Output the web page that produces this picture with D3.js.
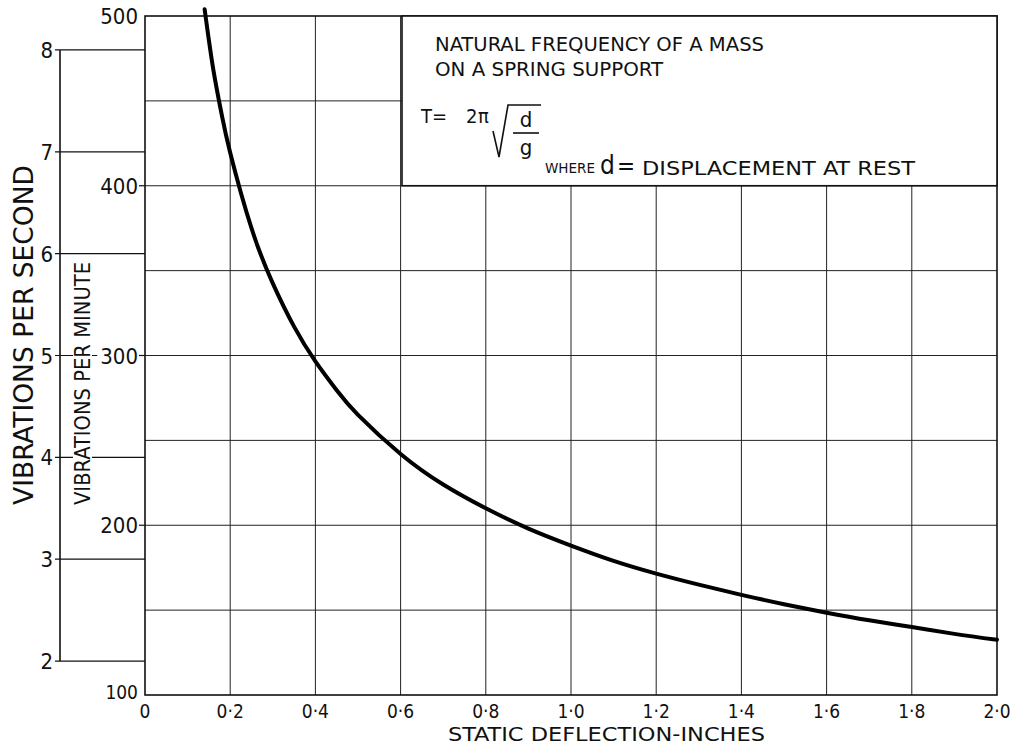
<!DOCTYPE html>
<html>
<head>
<meta charset="utf-8">
<script src="https://cdn.jsdelivr.net/npm/d3@7.9.0/dist/d3.min.js"></script>
<style>
  body { margin: 0; background: #fff; }
  text { font-family: "DejaVu Sans Condensed", "Liberation Sans Narrow", "Liberation Sans", sans-serif; fill: #111; }
</style>
</head>
<body>
<svg id="chart" width="1027" height="752"></svg>
<script>
// curve: static deflection (in) -> vibrations per minute
const deflection = [0.14, 0.16, 0.18, 0.2, 0.25, 0.3, 0.35, 0.4, 0.45, 0.5, 0.6, 0.7, 0.8, 0.9, 1.0, 1.1, 1.2, 1.3, 1.4, 1.5, 1.6, 1.7, 1.8, 1.9, 2.0];
const vibsPerMinute = [504, 469, 442, 419.5, 375, 342.5, 317, 296.5, 279.5, 265, 242, 224, 210, 198, 188, 179, 171.5, 165, 159, 153.5, 148.5, 144, 140, 136, 132.5];

const xTicks = [0, 0.2, 0.4, 0.6, 0.8, 1.0, 1.2, 1.4, 1.6, 1.8, 2.0];
const xTickLabels = ["0", "0·2", "0·4", "0·6", "0·8", "1·0", "1·2", "1·4", "1·6", "1·8", "2·0"];
const minuteTicks = [100, 200, 300, 400, 500];
const minuteGrid = [150, 200, 250, 300, 350, 400, 450];
const secondTicks = [2, 3, 4, 5, 6, 7, 8];

const titleLines = ["NATURAL FREQUENCY OF A MASS", "ON A SPRING SUPPORT"];

const svg = d3.select('#chart');

const x = d3.scaleLinear().domain([0, 2]).range([145, 997]);
const y = d3.scaleLinear().domain([100, 500]).range([695, 16]);
// per-second axis shares the plot: 1 per second = 60 per minute
const ySec = d3.scaleLinear().domain([100 / 60, 500 / 60]).range([695, 16]);
const secAxisX = 60;

// grid
const grid = svg.append('g').attr('stroke', '#222').attr('stroke-width', 1);
grid.selectAll('.vx')
  .data(xTicks.slice(1, -1))
  .join('line')
  .attr('x1', d => x(d)).attr('x2', d => x(d))
  .attr('y1', y(100)).attr('y2', y(500));
grid.selectAll('.hy')
  .data(minuteGrid)
  .join('line')
  .attr('x1', x(0)).attr('x2', x(2))
  .attr('y1', d => y(d)).attr('y2', d => y(d));

// per-second scale on the left
const sec = svg.append('g').attr('stroke', '#111').attr('stroke-width', 1.2);
sec.append('line')
  .attr('x1', secAxisX).attr('x2', secAxisX)
  .attr('y1', ySec(2)).attr('y2', ySec(8))
  .attr('stroke-width', 1.6);
sec.selectAll('.st')
  .data(secondTicks)
  .join('line')
  .attr('x1', secAxisX - 5).attr('x2', x(0))
  .attr('y1', d => ySec(d)).attr('y2', d => ySec(d));
svg.append('g').selectAll('text')
  .data(secondTicks)
  .join('text')
  .attr('x', secAxisX - 7)
  .attr('y', d => ySec(d) + 8)
  .attr('text-anchor', 'end')
  .attr('font-size', 22)
  .text(d => d);

// per-minute labels with a small tick into the frame
const minLab = svg.append('g');
minuteTicks.forEach(v => {
  const g = minLab.append('g');
  const t = g.append('text')
    .attr('x', x(0) - 7)
    .attr('y', y(v) + (v === 100 ? 4 : 8))
    .attr('text-anchor', 'end')
    .attr('font-size', v === 100 ? 19 : 22)
    .text(v);
  const b = t.node().getBBox();
  g.insert('rect', 'text')
    .attr('x', b.x - 3).attr('y', b.y).attr('width', b.width + 5).attr('height', b.height)
    .attr('fill', '#fff');
  if (v !== 100 && v !== 500) {
    g.append('line')
      .attr('x1', x(0) - 6).attr('x2', x(0))
      .attr('y1', y(v)).attr('y2', y(v))
      .attr('stroke', '#111').attr('stroke-width', 1.2);
  }
});

// frame
svg.append('rect')
  .attr('x', x(0)).attr('y', y(500))
  .attr('width', x(2) - x(0)).attr('height', y(100) - y(500))
  .attr('fill', 'none').attr('stroke', '#111').attr('stroke-width', 1.6);

// curve
const pts = deflection.map((d, i) => [d, vibsPerMinute[i]]);
svg.append('path')
  .datum(pts)
  .attr('fill', 'none')
  .attr('stroke', '#000')
  .attr('stroke-width', 4)
  .attr('stroke-linecap', 'round')
  .attr('d', d3.line().x(d => x(d[0])).y(d => y(d[1])).curve(d3.curveNatural));

// title box (covers the grid)
const box = svg.append('g');
box.append('rect')
  .attr('x', 402).attr('y', y(500))
  .attr('width', x(2) - 402).attr('height', y(400) - y(500))
  .attr('fill', '#fff').attr('stroke', '#111').attr('stroke-width', 1.6);
box.selectAll('.tl')
  .data(titleLines)
  .join('text')
  .attr('x', 435)
  .attr('y', (d, i) => 51 + i * 25)
  .attr('font-size', 19)
  .attr('textLength', (d, i) => i === 0 ? 329 : 228)
  .attr('lengthAdjust', 'spacingAndGlyphs')
  .text(d => d);

// formula T = 2 pi sqrt(d/g)
box.append('text').attr('x', 421).attr('y', 123).attr('font-size', 20).text('T=');
box.append('text').attr('x', 466).attr('y', 123).attr('font-size', 20).text('2');
box.append('text').attr('x', 478).attr('y', 123).attr('font-size', 20).text('π');
box.append('path')
  .attr('d', 'M493,131 L499,157 L508,105 L541,105')
  .attr('fill', 'none').attr('stroke', '#111').attr('stroke-width', 1.6);
box.append('text').attr('x', 526).attr('y', 127).attr('text-anchor', 'middle').attr('font-size', 22).text('d');
box.append('line').attr('x1', 513).attr('x2', 539).attr('y1', 133).attr('y2', 133)
  .attr('stroke', '#111').attr('stroke-width', 1.6);
box.append('text').attr('x', 526).attr('y', 155).attr('text-anchor', 'middle').attr('font-size', 22).text('g');
box.append('text').attr('x', 545).attr('y', 173).attr('font-size', 14)
  .attr('textLength', 50).attr('lengthAdjust', 'spacingAndGlyphs').text('WHERE');
box.append('text').attr('x', 600).attr('y', 174).attr('font-size', 26).text('d');
box.append('text').attr('x', 617).attr('y', 174).attr('font-size', 24).text('=');
box.append('text').attr('x', 642).attr('y', 175).attr('font-size', 20)
  .attr('textLength', 273).attr('lengthAdjust', 'spacingAndGlyphs').text('DISPLACEMENT AT REST');

// x tick labels and title
svg.append('g').selectAll('text')
  .data(xTicks)
  .join('text')
  .attr('x', d => x(d))
  .attr('y', 718)
  .attr('text-anchor', 'middle')
  .attr('font-size', 19)
  .text((d, i) => xTickLabels[i]);
svg.append('text')
  .attr('x', 448).attr('y', 741)
  .attr('font-size', 19)
  .attr('textLength', 317).attr('lengthAdjust', 'spacingAndGlyphs')
  .text('STATIC DEFLECTION-INCHES');

// y titles
svg.append('text')
  .attr('transform', 'translate(33,505) rotate(-90)')
  .attr('font-size', 27)
  .attr('textLength', 340).attr('lengthAdjust', 'spacingAndGlyphs')
  .text('VIBRATIONS PER SECOND');
const mt = svg.append('g').attr('transform', 'translate(90,505) rotate(-90)');
mt.append('text')
  .attr('font-size', 21)
  .attr('textLength', 243).attr('lengthAdjust', 'spacingAndGlyphs')
  .text('VIBRATIONS PER MINUTE');
mt.insert('rect', 'text')
  .attr('x', -2).attr('y', -17).attr('width', 247).attr('height', 19)
  .attr('fill', '#fff');
</script>
</body>
</html>
